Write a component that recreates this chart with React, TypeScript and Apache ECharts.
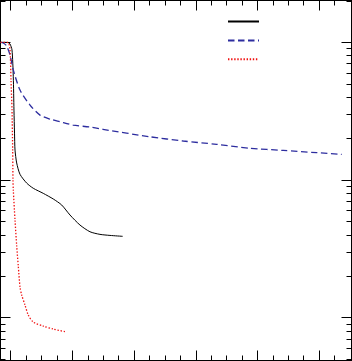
import React, { useEffect, useRef } from "react";
import * as echarts from "echarts";

// x in major-tick units, y normalised (log scale)
const solidX = [-0.165, -0.044, -0.011, 0.021, 0.042, 0.053, 0.062, 0.070, 0.097, 0.151, 0.259, 0.366, 0.528, 0.690, 0.827, 0.961, 1.123, 1.285, 1.447, 1.609, 1.815];
const solidY = [1.0, 0.997, 0.972, 0.88, 0.562, 0.322, 0.219, 0.165, 0.133, 0.110, 0.095, 0.0871, 0.080, 0.0728, 0.0658, 0.0557, 0.0471, 0.0421, 0.0403, 0.0396, 0.039];

const dashedX = [-0.165, -0.12, -0.065, -0.011, 0.042, 0.151, 0.313, 0.475, 0.637, 0.799, 1.010, 1.285, 1.496, 2.258, 2.797, 3.339, 3.878, 4.418, 4.959, 5.365];
const dashedY = [1.0, 0.988, 0.94, 0.809, 0.63, 0.45, 0.35, 0.296, 0.277, 0.265, 0.2506, 0.2425, 0.2333, 0.206, 0.192, 0.1815, 0.170, 0.164, 0.158, 0.1535];

const dottedX = [-0.165, -0.044, -0.011, 0.005, 0.021, 0.032, 0.037, 0.042, 0.070, 0.097, 0.123, 0.151, 0.178, 0.232, 0.285, 0.366, 0.528, 0.690, 0.908];
const dottedY = [1.0, 0.997, 0.88, 0.532, 0.322, 0.165, 0.1, 0.0846, 0.0512, 0.0332, 0.0237, 0.0167, 0.01462, 0.01236, 0.01045, 0.0093, 0.00869, 0.00827, 0.00787];

const xMajorTicks = [0, 1, 2, 3, 4, 5];
const xMinorTicks = [0.25, 0.5, 0.75, 1.25, 1.5, 1.75, 2.25, 2.5, 2.75, 3.25, 3.5, 3.75, 4.25, 4.5, 4.75, 5.25];
const yMajorTicks = [0.01, 0.1, 1];
const yMinorTicks = [0.005, 0.006, 0.007, 0.008, 0.009, 0.02, 0.03, 0.04, 0.05, 0.06, 0.07, 0.08, 0.09, 0.2, 0.3, 0.4, 0.5, 0.6, 0.7, 0.8, 0.9, 2];

const X_MIN = -0.1653;
const X_MAX = 5.524;
const Y_MIN = 0.00489;
const Y_MAX = 2.012;

const zip = (xs: number[], ys: number[]) => xs.map((x, i) => [x, ys[i]]);

export default function App() {
  const ref = useRef<HTMLDivElement>(null);
  useEffect(() => {
    if (!ref.current) return;
    const chart = echarts.init(ref.current, null, { renderer: "svg" });
    const lineCol = "#000";
    const xAxisBase = (position: string, ticks: number[], len: number, showLine: boolean) => ({
      type: "value",
      position,
      min: X_MIN,
      max: X_MAX,
      axisLine: { show: showLine, onZero: false, lineStyle: { color: lineCol, width: 1 } },
      axisTick: { show: true, inside: true, length: len, customValues: ticks, lineStyle: { color: lineCol, width: 1 } },
      axisLabel: { show: false },
      splitLine: { show: false },
    });
    const yAxisBase = (position: string, ticks: number[], len: number, showLine: boolean) => ({
      type: "log",
      logBase: 10,
      position,
      min: Y_MIN,
      max: Y_MAX,
      axisLine: { show: showLine, onZero: false, lineStyle: { color: lineCol, width: 1 } },
      axisTick: { show: true, inside: true, length: len, customValues: ticks, lineStyle: { color: lineCol, width: 1 } },
      axisLabel: { show: false },
      splitLine: { show: false },
    });
    const lineSeries = (name: string, xs: number[], ys: number[], color: string, width: number, type: any) => ({
      name,
      type: "line",
      xAxisIndex: 0,
      yAxisIndex: 0,
      data: zip(xs, ys),
      showSymbol: false,
      symbol: "none",
      smooth: 0.25,
      lineStyle: { color, width, type },
      itemStyle: { color },
    });
    chart.setOption({
      animation: false,
      backgroundColor: "#fff",
      grid: { left: 0.5, right: 0.5, top: 0.5, bottom: 0.5, containLabel: false },
      legend: {
        orient: "vertical",
        left: 227,
        top: 14.5,
        padding: 0,
        itemWidth: 31,
        itemHeight: 14,
        itemGap: 6.3,
        formatter: () => "",
        itemStyle: { opacity: 0, color: "transparent", borderWidth: 0 },
        data: ["solid", "dashed", "dotted"],
      },
      xAxis: [
        xAxisBase("bottom", xMajorTicks, 10, true),
        xAxisBase("bottom", xMinorTicks, 5, false),
        xAxisBase("top", xMajorTicks, 10, true),
        xAxisBase("top", xMinorTicks, 5, false),
      ],
      yAxis: [
        yAxisBase("left", yMajorTicks, 10, true),
        yAxisBase("left", yMinorTicks, 5, false),
        yAxisBase("right", yMajorTicks, 10, true),
        yAxisBase("right", yMinorTicks, 5, false),
      ],
      series: [
        lineSeries("solid", solidX, solidY, "#000", 1, "solid"),
        lineSeries("dashed", dashedX, dashedY, "#2d2d9f", 1.3, [6.5, 3.5]),
        lineSeries("dotted", dottedX, dottedY, "#f01010", 1.3, [1.4, 1.7]),
      ],
    });
    return () => chart.dispose();
  }, []);
  return (
    <div
      ref={ref}
      style={{ position: "absolute", left: 0, top: 0, width: 352, height: 361, background: "#fff" }}
    />
  );
}
